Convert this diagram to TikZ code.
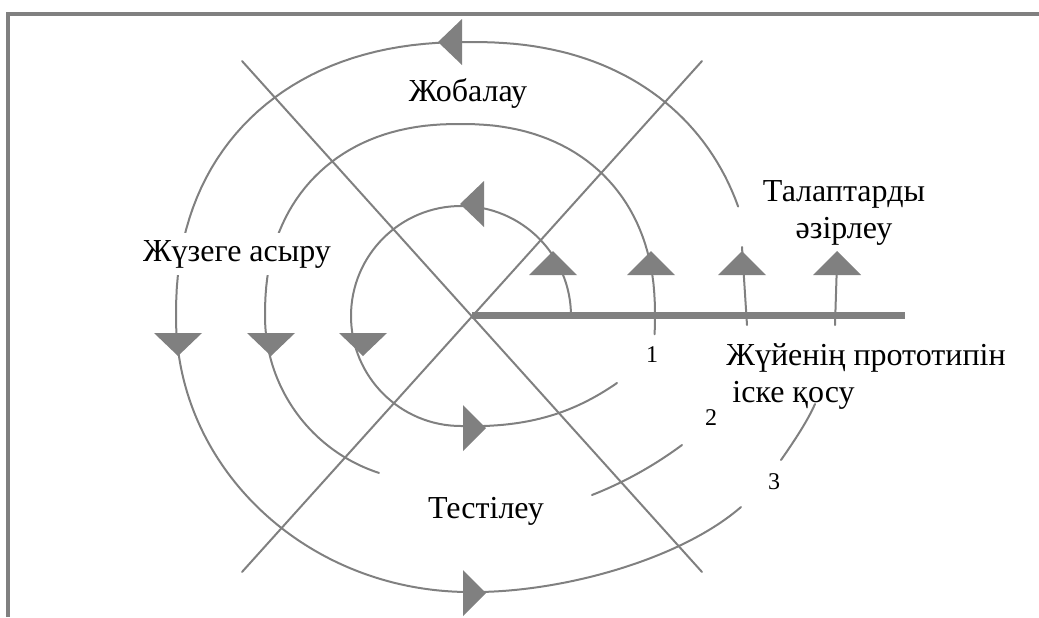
\documentclass[tikz,border=0pt]{standalone}
\usepackage{fontspec}
\setmainfont{Liberation Serif}
\begin{document}
\begin{tikzpicture}[x=0.5pt, y=-0.5pt]
% Spiral model, drawn in pixel coordinates of the sketch
\providecommand{\spiralLineColor}{black!50}
\providecommand{\spiralArrowColor}{black!50}
\providecommand{\spiralLineWidth}{1pt}
\providecommand{\spiralBarWidth}{3.5pt}
% squarish loop: sign(c)*|c|^0.889
\providecommand{\spiralSq}[1]{sign(#1)*pow(abs(#1)+0.00001,0.889)}
\tikzset{
  spiralarc/.style={draw=\spiralLineColor, line width=\spiralLineWidth, line cap=round},
  phaselabel/.style={font=\fontsize{16}{18.5}\selectfont, align=center, inner sep=3.5pt},
  looplabel/.style={font=\fontsize{12}{14}\selectfont, inner sep=1pt}
}
\useasboundingbox (0,0) rectangle (1039,617);
% Outer frame (only the left and top edges are in view)
\draw[draw=\spiralLineColor, line width=1.75pt] (8,617) -- (8,14) -- (1039,14);
% Diagonal cross
\begin{scope}[spiralarc]
  \draw (242,61) -- (702,572);
  \draw (702,61) -- (242,572);
\end{scope}
% Horizontal bar
\draw[draw=\spiralLineColor, line width=\spiralBarWidth] (472,315) -- (905,315);
% Spiral loops
\begin{scope}[spiralarc]
  % loop 1
  \draw (571,316) arc[start angle=0, end angle=-270, radius=110]
    .. controls (530,428) and (575,412) .. (617,383);
  % loop 2
  \draw plot[domain=4:-180, samples=80] ({460+195*\spiralSq{cos(\x)}}, {316+192*\spiralSq{sin(\x)}})
    arc[start angle=-180, end angle=-252, radius=165];
  \draw (592,495) .. controls (625,482) and (655,465) .. (682,445);
  % loop 3
  \draw (747,325) -- (742,247);
  \draw plot[domain=-21:-90, samples=40] ({470+285*\spiralSq{cos(\x)}}, {317+275*\spiralSq{sin(\x)}})
    -- plot[domain=-90:-180, samples=40] ({470+294*\spiralSq{cos(\x)}}, {317+275*\spiralSq{sin(\x)}})
    arc[start angle=-180, end angle=-270, x radius=294, y radius=275]
    .. controls (560,593) and (680,560) .. (741,507);
  % loop 4
  \draw (781,460) .. controls (795,440) and (808,420) .. (815,404);
  \draw (835,325) -- (837,262);
\end{scope}
% Arrow heads
\begin{scope}[fill=\spiralArrowColor]
  % pointing up
  \fill (529,275) -- (577,275) -- (553,251) -- cycle;
  \fill (627,275) -- (675,275) -- (651,251) -- cycle;
  \fill (718,275) -- (766,275) -- (742,251) -- cycle;
  \fill (813,275) -- (861,275) -- (837,251) -- cycle;
  % pointing down
  \fill (154,333) -- (202,333) -- (178,356) -- cycle;
  \fill (247,333) -- (295,333) -- (271,356) -- cycle;
  \fill (339,333) -- (387,333) -- (363,356) -- cycle;
  % pointing left
  \fill (462,19) -- (462,65) -- (438,42) -- cycle;
  \fill (484,181) -- (484,227) -- (460,204) -- cycle;
  % pointing right
  \fill (463,405) -- (463,451) -- (486,428) -- cycle;
  \fill (463,570) -- (463,616) -- (486,593) -- cycle;
\end{scope}
% Phase labels
\node[phaselabel] (design) at (468,93) {Жобалау};
\node[phaselabel, fill=white] (build) at (237,254) {Жүзеге асыру};
\node[phaselabel] (test) at (486,511) {Тестілеу};
\node[phaselabel] (reqs) at (844,213) {Талаптарды\\әзірлеу};
\node[phaselabel, align=left, inner sep=0pt, anchor=north west] (proto) at (726,343) {Жүйенің прототипін\\\hspace*{3pt}іске қосу};
% Loop numbers
\node[looplabel] (loopone) at (652,355) {1};
\node[looplabel] (looptwo) at (711,418) {2};
\node[looplabel] (loopthree) at (774,482) {3};
\end{tikzpicture}
\end{document}
